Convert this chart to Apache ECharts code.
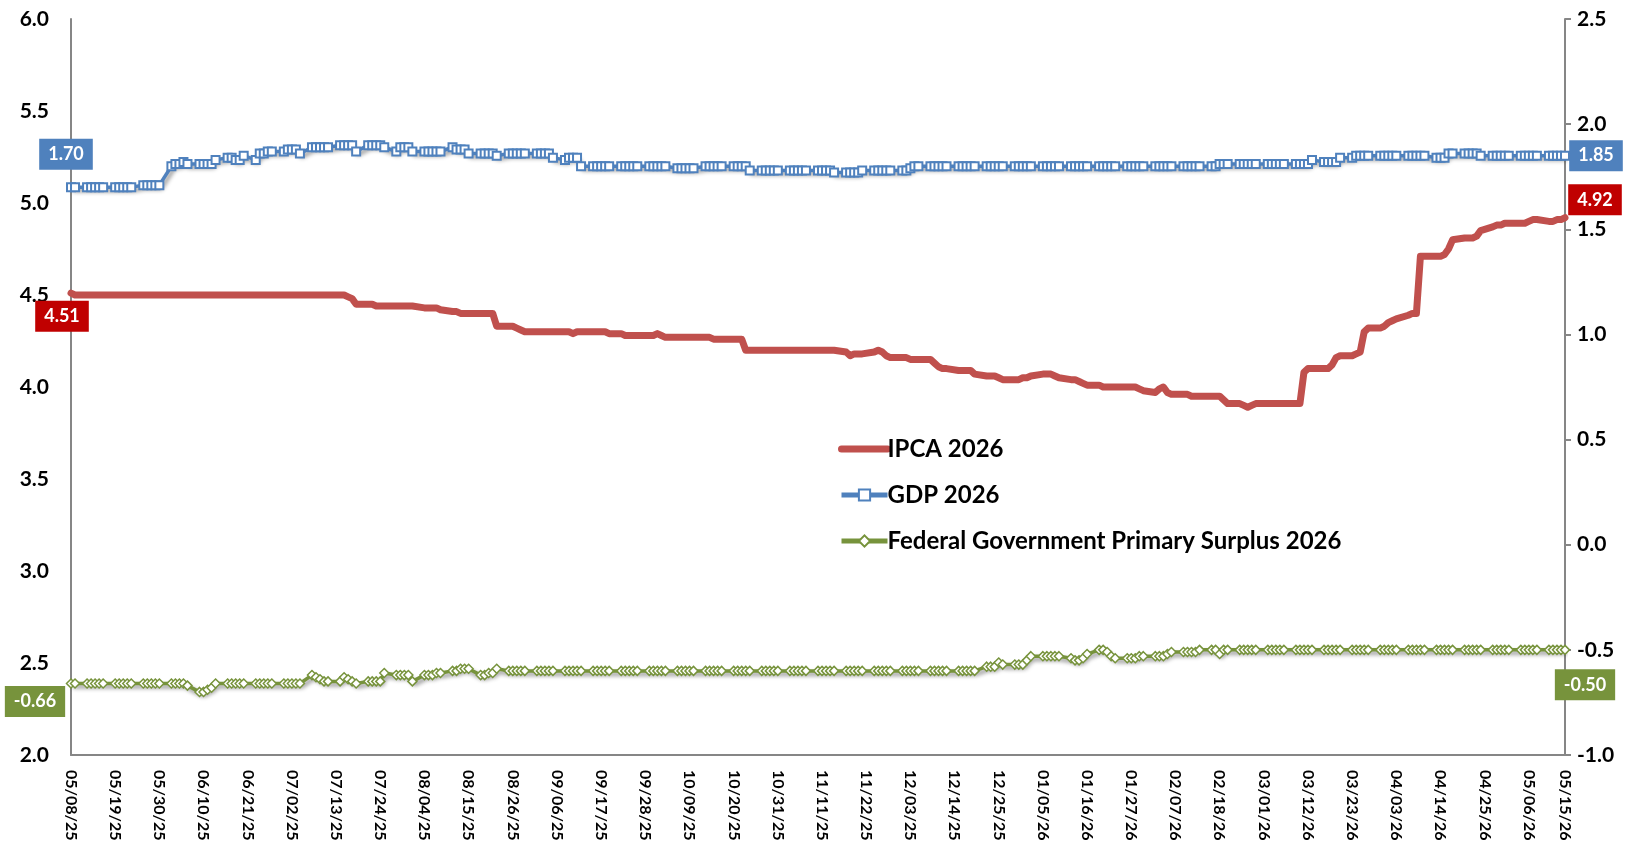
<!DOCTYPE html>
<html>
<head>
<meta charset="utf-8">
<script src="https://cdn.jsdelivr.net/npm/echarts@6/dist/echarts.min.js"></script>
<style>
  html, body { margin: 0; padding: 0; background: #fff; }
  #chart { width: 1630px; height: 848px; }
</style>
</head>
<body>
<div id="chart"></div>
<script>
// calendar runs 05/08/25 .. 05/15/26, values only on weekdays
var startDay = [2025, 4, 8];
var endDay = [2026, 4, 15];

var seriesNames = ["IPCA 2026", "GDP 2026", "Federal Government Primary Surplus 2026"];

// IPCA 2026 (left axis), one row per week (Mon..Fri)
var ipca = [
  4.51, 4.50,                      // May 8-9
  4.50, 4.50, 4.50, 4.50, 4.50,    // May 12
  4.50, 4.50, 4.50, 4.50, 4.50,    // May 19
  4.50, 4.50, 4.50, 4.50, 4.50,    // May 26
  4.50, 4.50, 4.50, 4.50, 4.50,    // Jun 2
  4.50, 4.50, 4.50, 4.50, 4.50,    // Jun 9
  4.50, 4.50, 4.50, 4.50, 4.50,    // Jun 16
  4.50, 4.50, 4.50, 4.50, 4.50,    // Jun 23
  4.50, 4.50, 4.50, 4.50, 4.50,    // Jun 30
  4.50, 4.50, 4.50, 4.50, 4.50,    // Jul 7
  4.50, 4.50, 4.49, 4.48, 4.45,    // Jul 14
  4.45, 4.45, 4.44, 4.44, 4.44,    // Jul 21
  4.44, 4.44, 4.44, 4.44, 4.44,    // Jul 28
  4.43, 4.43, 4.43, 4.43, 4.42,    // Aug 4
  4.41, 4.41, 4.40, 4.40, 4.40,    // Aug 11
  4.40, 4.40, 4.40, 4.40, 4.33,    // Aug 18
  4.33, 4.33, 4.32, 4.31, 4.30,    // Aug 25
  4.30, 4.30, 4.30, 4.30, 4.30,    // Sep 1
  4.30, 4.30, 4.29, 4.30, 4.30,    // Sep 8
  4.30, 4.30, 4.30, 4.30, 4.29,    // Sep 15
  4.29, 4.28, 4.28, 4.28, 4.28,    // Sep 22
  4.28, 4.28, 4.29, 4.28, 4.27,    // Sep 29
  4.27, 4.27, 4.27, 4.27, 4.27,    // Oct 6
  4.27, 4.27, 4.26, 4.26, 4.26,    // Oct 13
  4.26, 4.26, 4.26, 4.20, 4.20,    // Oct 20
  4.20, 4.20, 4.20, 4.20, 4.20,    // Oct 27
  4.20, 4.20, 4.20, 4.20, 4.20,    // Nov 3
  4.20, 4.20, 4.20, 4.20, 4.20,    // Nov 10
  4.19, 4.17, 4.18, 4.18, 4.18,    // Nov 17
  4.19, 4.20, 4.19, 4.17, 4.16,    // Nov 24
  4.16, 4.16, 4.15, 4.15, 4.15,    // Dec 1
  4.15, 4.13, 4.11, 4.10, 4.10,    // Dec 8
  4.09, 4.09, 4.09, 4.09, 4.07,    // Dec 15
  4.06, 4.06, 4.06, 4.05, 4.04,    // Dec 22
  4.04, 4.04, 4.05, 4.05, 4.06,    // Dec 29
  4.07, 4.07, 4.07, 4.06, 4.05,    // Jan 5
  4.04, 4.04, 4.03, 4.02, 4.01,    // Jan 12
  4.01, 4.00, 4.00, 4.00, 4.00,    // Jan 19
  4.00, 4.00, 4.00, 3.99, 3.98,    // Jan 26
  3.97, 3.99, 4.00, 3.97, 3.96,    // Feb 2
  3.96, 3.96, 3.95, 3.95, 3.95,    // Feb 9
  3.95, 3.95, 3.95, 3.93, 3.91,    // Feb 16
  3.91, 3.90, 3.89, 3.90, 3.91,    // Feb 23
  3.91, 3.91, 3.91, 3.91, 3.91,    // Mar 2
  3.91, 3.91, 4.08, 4.10, 4.10,    // Mar 9
  4.10, 4.10, 4.12, 4.16, 4.17,    // Mar 16
  4.17, 4.18, 4.19, 4.30, 4.32,    // Mar 23
  4.32, 4.33, 4.35, 4.36, 4.37,    // Mar 30
  4.39, 4.40, 4.40, 4.71, 4.71,    // Apr 6
  4.71, 4.71, 4.72, 4.75, 4.80,    // Apr 13
  4.81, 4.81, 4.81, 4.82, 4.85,    // Apr 20
  4.87, 4.88, 4.88, 4.89, 4.89,    // Apr 27
  4.89, 4.89, 4.90, 4.91, 4.91,    // May 4
  4.90, 4.90, 4.91, 4.91, 4.92     // May 11
];

// GDP 2026 (right axis)
var gdp = [
  1.70, 1.70,
  1.70, 1.70, 1.70, 1.70, 1.70,    // May 12
  1.70, 1.70, 1.70, 1.70, 1.70,    // May 19
  1.71, 1.71, 1.71, 1.71, 1.71,    // May 26
  1.80, 1.81, 1.81, 1.82, 1.81,    // Jun 2
  1.81, 1.81, 1.81, 1.81, 1.83,    // Jun 9
  1.84, 1.84, 1.83, 1.83, 1.85,    // Jun 16
  1.83, 1.86, 1.86, 1.87, 1.87,    // Jun 23
  1.87, 1.88, 1.88, 1.88, 1.86,    // Jun 30
  1.89, 1.89, 1.89, 1.89, 1.89,    // Jul 7
  1.90, 1.90, 1.90, 1.90, 1.87,    // Jul 14
  1.90, 1.90, 1.90, 1.90, 1.89,    // Jul 21
  1.87, 1.89, 1.89, 1.89, 1.87,    // Jul 28
  1.87, 1.87, 1.87, 1.87, 1.87,    // Aug 4
  1.89, 1.88, 1.88, 1.88, 1.86,    // Aug 11
  1.86, 1.86, 1.86, 1.86, 1.85,    // Aug 18
  1.86, 1.86, 1.86, 1.86, 1.86,    // Aug 25
  1.86, 1.86, 1.86, 1.86, 1.84,    // Sep 1
  1.83, 1.84, 1.84, 1.84, 1.80,    // Sep 8
  1.80, 1.80, 1.80, 1.80, 1.80,    // Sep 15
  1.80, 1.80, 1.80, 1.80, 1.80,    // Sep 22
  1.80, 1.80, 1.80, 1.80, 1.80,    // Sep 29
  1.79, 1.79, 1.79, 1.79, 1.79,    // Oct 6
  1.80, 1.80, 1.80, 1.80, 1.80,    // Oct 13
  1.80, 1.80, 1.80, 1.80, 1.78,    // Oct 20
  1.78, 1.78, 1.78, 1.78, 1.78,    // Oct 27
  1.78, 1.78, 1.78, 1.78, 1.78,    // Nov 3
  1.78, 1.78, 1.78, 1.78, 1.77,    // Nov 10
  1.77, 1.77, 1.77, 1.77, 1.78,    // Nov 17
  1.78, 1.78, 1.78, 1.78, 1.78,    // Nov 24
  1.78, 1.78, 1.79, 1.80, 1.80,    // Dec 1
  1.80, 1.80, 1.80, 1.80, 1.80,    // Dec 8
  1.80, 1.80, 1.80, 1.80, 1.80,    // Dec 15
  1.80, 1.80, 1.80, 1.80, 1.80,    // Dec 22
  1.80, 1.80, 1.80, 1.80, 1.80,    // Dec 29
  1.80, 1.80, 1.80, 1.80, 1.80,    // Jan 5
  1.80, 1.80, 1.80, 1.80, 1.80,    // Jan 12
  1.80, 1.80, 1.80, 1.80, 1.80,    // Jan 19
  1.80, 1.80, 1.80, 1.80, 1.80,    // Jan 26
  1.80, 1.80, 1.80, 1.80, 1.80,    // Feb 2
  1.80, 1.80, 1.80, 1.80, 1.80,    // Feb 9
  1.80, 1.80, 1.81, 1.81, 1.81,    // Feb 16
  1.81, 1.81, 1.81, 1.81, 1.81,    // Feb 23
  1.81, 1.81, 1.81, 1.81, 1.81,    // Mar 2
  1.81, 1.81, 1.81, 1.81, 1.83,    // Mar 9
  1.82, 1.82, 1.82, 1.82, 1.84,    // Mar 16
  1.84, 1.85, 1.85, 1.85, 1.85,    // Mar 23
  1.85, 1.85, 1.85, 1.85, 1.85,    // Mar 30
  1.85, 1.85, 1.85, 1.85, 1.85,    // Apr 6
  1.84, 1.84, 1.84, 1.86, 1.86,    // Apr 13
  1.86, 1.86, 1.86, 1.86, 1.85,    // Apr 20
  1.85, 1.85, 1.85, 1.85, 1.85,    // Apr 27
  1.85, 1.85, 1.85, 1.85, 1.85,    // May 4
  1.85, 1.85, 1.85, 1.85, 1.85     // May 11
];

// Federal Government Primary Surplus 2026 (right axis)
var surplus = [
  -0.66, -0.66,
  -0.66, -0.66, -0.66, -0.66, -0.66,    // May 12
  -0.66, -0.66, -0.66, -0.66, -0.66,    // May 19
  -0.66, -0.66, -0.66, -0.66, -0.66,    // May 26
  -0.66, -0.66, -0.66, -0.66, -0.67,    // Jun 2
  -0.70, -0.70, -0.69, -0.68, -0.66,    // Jun 9
  -0.66, -0.66, -0.66, -0.66, -0.66,    // Jun 16
  -0.66, -0.66, -0.66, -0.66, -0.66,    // Jun 23
  -0.66, -0.66, -0.66, -0.66, -0.66,    // Jun 30
  -0.62, -0.63, -0.64, -0.65, -0.65,    // Jul 7
  -0.65, -0.63, -0.64, -0.65, -0.66,    // Jul 14
  -0.65, -0.65, -0.65, -0.65, -0.61,    // Jul 21
  -0.62, -0.62, -0.62, -0.62, -0.65,    // Jul 28
  -0.62, -0.62, -0.62, -0.61, -0.61,    // Aug 4
  -0.60, -0.60, -0.59, -0.59, -0.59,    // Aug 11
  -0.62, -0.62, -0.61, -0.61, -0.59,    // Aug 18
  -0.60, -0.60, -0.60, -0.60, -0.60,    // Aug 25
  -0.60, -0.60, -0.60, -0.60, -0.60,    // Sep 1
  -0.60, -0.60, -0.60, -0.60, -0.60,    // Sep 8
  -0.60, -0.60, -0.60, -0.60, -0.60,    // Sep 15
  -0.60, -0.60, -0.60, -0.60, -0.60,    // Sep 22
  -0.60, -0.60, -0.60, -0.60, -0.60,    // Sep 29
  -0.60, -0.60, -0.60, -0.60, -0.60,    // Oct 6
  -0.60, -0.60, -0.60, -0.60, -0.60,    // Oct 13
  -0.60, -0.60, -0.60, -0.60, -0.60,    // Oct 20
  -0.60, -0.60, -0.60, -0.60, -0.60,    // Oct 27
  -0.60, -0.60, -0.60, -0.60, -0.60,    // Nov 3
  -0.60, -0.60, -0.60, -0.60, -0.60,    // Nov 10
  -0.60, -0.60, -0.60, -0.60, -0.60,    // Nov 17
  -0.60, -0.60, -0.60, -0.60, -0.60,    // Nov 24
  -0.60, -0.60, -0.60, -0.60, -0.60,    // Dec 1
  -0.60, -0.60, -0.60, -0.60, -0.60,    // Dec 8
  -0.60, -0.60, -0.60, -0.60, -0.60,    // Dec 15
  -0.58, -0.58, -0.58, -0.56, -0.57,    // Dec 22
  -0.57, -0.57, -0.57, -0.55, -0.53,    // Dec 29
  -0.53, -0.53, -0.53, -0.53, -0.53,    // Jan 5
  -0.54, -0.55, -0.55, -0.54, -0.52,    // Jan 12
  -0.50, -0.50, -0.51, -0.53, -0.54,    // Jan 19
  -0.54, -0.54, -0.54, -0.53, -0.53,    // Jan 26
  -0.53, -0.53, -0.53, -0.52, -0.51,    // Feb 2
  -0.51, -0.51, -0.51, -0.51, -0.50,    // Feb 9
  -0.50, -0.50, -0.52, -0.50, -0.50,    // Feb 16
  -0.50, -0.50, -0.50, -0.50, -0.50,    // Feb 23
  -0.50, -0.50, -0.50, -0.50, -0.50,    // Mar 2
  -0.50, -0.50, -0.50, -0.50, -0.50,    // Mar 9
  -0.50, -0.50, -0.50, -0.50, -0.50,    // Mar 16
  -0.50, -0.50, -0.50, -0.50, -0.50,    // Mar 23
  -0.50, -0.50, -0.50, -0.50, -0.50,    // Mar 30
  -0.50, -0.50, -0.50, -0.50, -0.50,    // Apr 6
  -0.50, -0.50, -0.50, -0.50, -0.50,    // Apr 13
  -0.50, -0.50, -0.50, -0.50, -0.50,    // Apr 20
  -0.50, -0.50, -0.50, -0.50, -0.50,    // Apr 27
  -0.50, -0.50, -0.50, -0.50, -0.50,    // May 4
  -0.50, -0.50, -0.50, -0.50, -0.50     // May 11
];

var colors = ["#C0504D", "#4F81BD", "#77933C"];
var tagColors = ["#C00000", "#4F81BD", "#77933C"];
var font = "Lato";

// build the calendar categories
function pad(n) { return (n < 10 ? "0" : "") + n; }
var days = [];
var d = new Date(startDay[0], startDay[1], startDay[2]);
var last = new Date(endDay[0], endDay[1], endDay[2]);
while (d <= last) {
  days.push({
    label: pad(d.getMonth() + 1) + "/" + pad(d.getDate()) + "/" + String(d.getFullYear()).slice(2),
    weekday: d.getDay() > 0 && d.getDay() < 6
  });
  d.setDate(d.getDate() + 1);
}
var categories = days.map(function (x) { return x.label; });
var lastIdx = categories.length - 1;

function spread(vals) {
  var k = 0;
  return days.map(function (x) { return x.weekday ? vals[k++] : null; });
}

function tag(i, vals, idx, offset) {
  var v = vals[idx === 0 ? 0 : vals.length - 1];
  return {
    coord: [categories[idx], v],
    value: v.toFixed(2),
    label: {
      show: true,
      position: "inside",
      offset: offset,
      formatter: "{c}",
      color: "#fff",
      fontFamily: font,
      fontWeight: "bold",
      fontSize: 18,
      backgroundColor: tagColors[i],
      padding: [7, 9, 6, 9]
    }
  };
}

function tags(i, vals, leftOff, rightOff) {
  return {
    symbol: "circle",
    symbolSize: 0,
    itemStyle: { color: "transparent" },
    silent: true,
    animation: false,
    data: [tag(i, vals, 0, leftOff), tag(i, vals, lastIdx, rightOff)]
  };
}

var shadow = { shadowColor: "rgba(0,0,0,0.45)", shadowBlur: 4, shadowOffsetX: 2, shadowOffsetY: 3 };
var clear = "rgba(0,0,0,0)";

var chart = echarts.init(document.getElementById("chart"));
chart.setOption({
  animation: false,
  backgroundColor: "#fff",
  grid: { left: 71, right: 65, top: 19, bottom: 93 },
  legend: {
    orient: "vertical",
    left: 833,
    top: 432,
    itemWidth: 46,
    itemHeight: 14,
    itemGap: 22,
    data: [
      { name: seriesNames[0], lineStyle: { width: 7 }, itemStyle: { color: clear, borderColor: clear, borderWidth: 0 } },
      { name: seriesNames[1], lineStyle: { width: 5 } },
      { name: seriesNames[2], lineStyle: { width: 5 } }
    ],
    textStyle: { fontFamily: font, fontWeight: "bold", fontSize: 24, color: "#000", padding: [0, 0, 0, -5] }
  },
  xAxis: {
    type: "category",
    data: categories,
    boundaryGap: false,
    axisLine: { onZero: false, lineStyle: { color: "#868686", width: 2 } },
    axisTick: { show: false },
    axisLabel: {
      rotate: -90,
      margin: 15,
      interval: function (index) { return index % 11 === 0 || index === lastIdx; },
      fontFamily: font,
      fontWeight: "bold",
      fontSize: 16,
      color: "#000"
    },
    splitLine: { show: false }
  },
  yAxis: [
    {
      type: "value",
      min: 2, max: 6, interval: 0.5,
      axisLine: { show: true, onZero: false, lineStyle: { color: "#868686", width: 2 } },
      axisTick: { show: false },
      splitLine: { show: false },
      axisLabel: {
        margin: 22,
        formatter: function (v) { return v.toFixed(1); },
        fontFamily: font, fontWeight: "bold", fontSize: 21, color: "#000"
      }
    },
    {
      type: "value",
      min: -1, max: 2.5, interval: 0.5,
      axisLine: { show: true, onZero: false, lineStyle: { color: "#868686", width: 2 } },
      axisTick: { show: true, length: 6, lineStyle: { color: "#868686", width: 2 } },
      splitLine: { show: false },
      axisLabel: {
        margin: 12,
        formatter: function (v) { return v.toFixed(1); },
        fontFamily: font, fontWeight: "bold", fontSize: 21, color: "#000"
      }
    }
  ],
  series: [
    {
      name: seriesNames[1],
      type: "line",
      yAxisIndex: 1,
      data: spread(gdp),
      connectNulls: true,
      showAllSymbol: true,
      symbol: "rect",
      symbolSize: 8,
      color: colors[1],
      itemStyle: { color: "#fff", borderColor: colors[1], borderWidth: 2 },
      lineStyle: Object.assign({ color: colors[1], width: 3.5 }, shadow),
      markPoint: tags(1, gdp, [-5, -33], [31, 0])
    },
    {
      name: seriesNames[2],
      type: "line",
      yAxisIndex: 1,
      data: spread(surplus),
      connectNulls: true,
      showAllSymbol: true,
      symbol: "diamond",
      symbolSize: 9,
      color: colors[2],
      itemStyle: { color: "#fff", borderColor: colors[2], borderWidth: 1.5 },
      lineStyle: Object.assign({ color: colors[2], width: 3.5 }, shadow),
      markPoint: tags(2, surplus, [-36, 18], [20, 35])
    },
    {
      name: seriesNames[0],
      type: "line",
      yAxisIndex: 0,
      data: spread(ipca),
      connectNulls: true,
      showSymbol: false,
      symbol: "none",
      color: colors[0],
      lineStyle: { color: colors[0], width: 7, cap: "round", join: "round" },
      markPoint: tags(0, ipca, [-9, 23], [30, -18])
    }
  ]
});
</script>
</body>
</html>
